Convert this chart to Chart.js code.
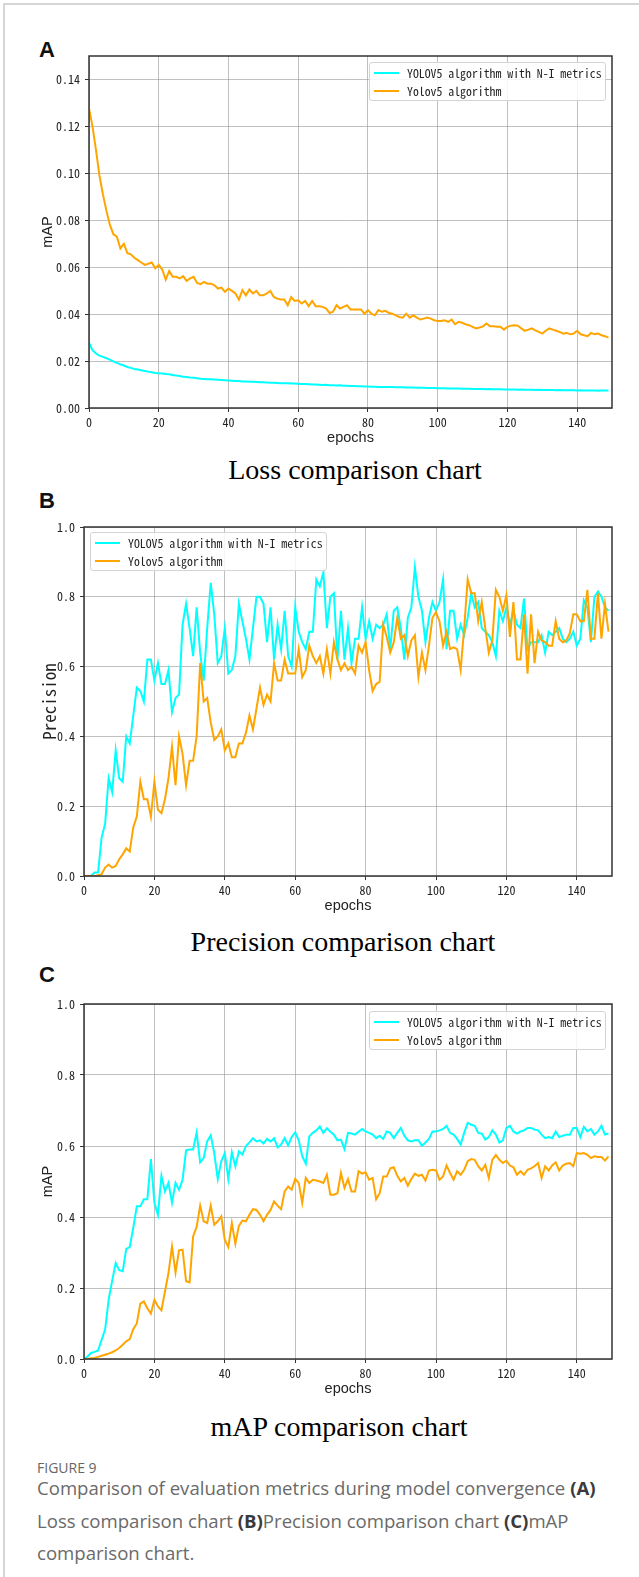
<!DOCTYPE html>
<html>
<head>
<meta charset="utf-8">
<script src="https://cdn.jsdelivr.net/npm/chart.js@4.4.1/dist/chart.umd.min.js"></script>
<style>
    html, body { margin: 0; padding: 0; background: #fff; }
    body { width: 639px; height: 1577px; position: relative; overflow: hidden; }
    .frame { position: absolute; left: 3px; top: 3px; width: 700px; height: 1700px;
             border-top: 2px solid #d6d6d6; border-left: 2px solid #d6d6d6; }
    canvas { position: absolute; left: 0; }
    .letter { position: absolute; font: bold 22px "Liberation Sans", Arial, sans-serif; line-height: 22px; color: #111; }
    .ptitle { position: absolute; font: 28px "Liberation Serif", "Times New Roman", serif; line-height: 28px;
              white-space: nowrap; transform: translateX(-50%); color: #000; }
    .legend { position: absolute; width: 237px; height: 39px; box-sizing: border-box;
              border: 1px solid #d4d4d4; border-radius: 3px; background: rgba(255,255,255,0.85);
              font: 11.8px "Noto Sans Mono CJK SC", "DejaVu Sans Mono", monospace; color: #222; }
    .legend .row { position: absolute; left: 0; height: 14px; line-height: 14px; white-space: nowrap; }
    .legend .swatch { position: absolute; left: 4px; top: 6px; width: 25px; height: 2px; }
    .legend .txt { position: absolute; left: 37px; top: 0; }
    .caphead { position: absolute; left: 37px; top: 1461px; font: 14px "Open Sans", "Noto Sans", sans-serif;
               line-height: 14px; color: #666; }
    .cap { position: absolute; left: 37px; top: 1472px; font: 18.6px "Open Sans", "Noto Sans", sans-serif;
           line-height: 32.5px; color: #6a6a6a; white-space: nowrap; }
    .cap b { color: #3a3a3a; }
</style>
</head>
<body>
<div class="frame"></div>

<div class="letter" style="left:39px;top:39px;">A</div>
<div class="letter" style="left:39px;top:490px;">B</div>
<div class="letter" style="left:39px;top:964px;">C</div>

<div class="ptitle" style="left:355px;top:456px;">Loss comparison chart</div>
<div class="ptitle" style="left:343px;top:928px;">Precision comparison chart</div>
<div class="ptitle" style="left:339px;top:1413px;">mAP comparison chart</div>

<div class="caphead">FIGURE 9</div>
<div class="cap">Comparison of evaluation metrics during model convergence <b>(A)</b><br>Loss comparison chart <b>(B)</b>Precision comparison chart <b>(C)</b>mAP<br>comparison chart.</div>

<script>
    const seriesNames = ["YOLOV5 algorithm with N-I metrics", "Yolov5 algorithm"];
    const seriesColors = ["#00ffff", "#ffa500"];

    const epochs = Array.from({ length: 150 }, (_, i) => i);
    const xTicks = [0, 20, 40, 60, 80, 100, 120, 140];
    const lossTicks = [0, 0.02, 0.04, 0.06, 0.08, 0.10, 0.12, 0.14];
    const unitTicks = [0, 0.2, 0.4, 0.6, 0.8, 1.0];

    // panel A: loss
    const lossNI = [
        0.0278, 0.0246, 0.0232, 0.0223, 0.0218, 0.0212, 0.0206, 0.0199, 0.0192, 0.0186,
        0.0181, 0.0175, 0.0171, 0.0166, 0.0164, 0.0161, 0.0158, 0.0155, 0.0152, 0.0149,
        0.0148, 0.0147, 0.0145, 0.0144, 0.0141, 0.0138, 0.0136, 0.0133, 0.0132, 0.0130,
        0.0129, 0.0127, 0.0125, 0.0124, 0.0123, 0.0122, 0.0121, 0.0120, 0.0119, 0.0118,
        0.0117, 0.0116, 0.0115, 0.0115, 0.0113, 0.0113, 0.0112, 0.0112, 0.0111, 0.0110,
        0.0110, 0.0109, 0.0108, 0.0108, 0.0107, 0.0106, 0.0106, 0.0105, 0.0104, 0.0104,
        0.0103, 0.0102, 0.0102, 0.0101, 0.0100, 0.0100, 0.0099, 0.0098, 0.0099, 0.0097,
        0.0097, 0.0096, 0.0097, 0.0095, 0.0095, 0.0094, 0.0094, 0.0093, 0.0093, 0.0092,
        0.0092, 0.0091, 0.0091, 0.0090, 0.0090, 0.0090, 0.0089, 0.0089, 0.0088, 0.0088,
        0.0088, 0.0087, 0.0087, 0.0087, 0.0086, 0.0086, 0.0086, 0.0085, 0.0085, 0.0085,
        0.0084, 0.0084, 0.0084, 0.0083, 0.0083, 0.0083, 0.0083, 0.0082, 0.0082, 0.0082,
        0.0081, 0.0081, 0.0081, 0.0081, 0.0080, 0.0081, 0.0080, 0.0080, 0.0080, 0.0079,
        0.0079, 0.0079, 0.0079, 0.0078, 0.0079, 0.0078, 0.0078, 0.0078, 0.0077, 0.0078,
        0.0077, 0.0077, 0.0077, 0.0077, 0.0076, 0.0077, 0.0076, 0.0076, 0.0076, 0.0076,
        0.0075, 0.0076, 0.0075, 0.0075, 0.0075, 0.0075, 0.0074, 0.0075, 0.0075, 0.0075
    ];
    const lossYolo = [
        0.1277, 0.120, 0.110, 0.099, 0.091, 0.084, 0.078, 0.074, 0.073, 0.068,
        0.070, 0.066, 0.0655, 0.064, 0.063, 0.062, 0.061, 0.0615, 0.062, 0.0595,
        0.061, 0.059, 0.0547, 0.0584, 0.0559, 0.0559, 0.0552, 0.0562, 0.0542, 0.0552,
        0.0559, 0.0533, 0.0528, 0.0537, 0.053, 0.053, 0.0523, 0.0509, 0.0513, 0.0495,
        0.0509, 0.0499, 0.0488, 0.0462, 0.0502, 0.048, 0.0505, 0.0488, 0.0499, 0.048,
        0.048, 0.0488, 0.0499, 0.0473, 0.0466, 0.0462, 0.0462, 0.0438, 0.0473, 0.0456,
        0.0459, 0.0445, 0.0456, 0.0434, 0.0456, 0.0434, 0.0434, 0.0431, 0.0424, 0.0405,
        0.041, 0.0438, 0.0424, 0.0431, 0.0438, 0.042, 0.042, 0.042, 0.042, 0.0402,
        0.0417, 0.0402, 0.0395, 0.0417, 0.041, 0.0414, 0.0405, 0.0402, 0.0395, 0.0388,
        0.0385, 0.0402, 0.0385, 0.0395, 0.0385, 0.0377, 0.0381, 0.0385, 0.0381, 0.0374,
        0.0371, 0.0371, 0.0374, 0.0367, 0.0377, 0.0357, 0.0367, 0.0363, 0.0357, 0.0353,
        0.0346, 0.0339, 0.0343, 0.0348, 0.036, 0.0348, 0.0348, 0.0346, 0.0346, 0.0334,
        0.0346, 0.0351, 0.0353, 0.0351, 0.0339, 0.0329, 0.0334, 0.0339, 0.0331, 0.0324,
        0.0317, 0.0329, 0.0339, 0.0334, 0.0329, 0.0324, 0.0317, 0.032, 0.0314, 0.0317,
        0.0329, 0.0314, 0.031, 0.0306, 0.032, 0.0314, 0.0317, 0.031, 0.0306, 0.030
    ];

    // panel B: precision
    const precNI = [
        0, 0, 0, 0.01, 0.01, 0.11, 0.15, 0.28, 0.24, 0.36,
        0.28, 0.27, 0.40, 0.38, 0.46, 0.54, 0.53, 0.50, 0.62, 0.62,
        0.56, 0.61, 0.55, 0.55, 0.59, 0.47, 0.51, 0.52, 0.72, 0.78,
        0.71, 0.63, 0.77, 0.64, 0.56, 0.71, 0.84, 0.75, 0.61, 0.63,
        0.71, 0.58, 0.59, 0.63, 0.78, 0.73, 0.68, 0.62, 0.71, 0.80,
        0.80, 0.78, 0.67, 0.77, 0.62, 0.72, 0.65, 0.76, 0.63, 0.60,
        0.77, 0.70, 0.67, 0.65, 0.70, 0.70, 0.85, 0.83, 0.87, 0.71,
        0.80, 0.81, 0.62, 0.76, 0.62, 0.71, 0.61, 0.68, 0.68, 0.77,
        0.68, 0.73, 0.68, 0.72, 0.71, 0.72, 0.75, 0.65, 0.76, 0.77,
        0.71, 0.62, 0.74, 0.77, 0.885, 0.80, 0.76, 0.67, 0.74, 0.785,
        0.76, 0.785, 0.85, 0.65, 0.76, 0.76, 0.68, 0.72, 0.69, 0.74,
        0.81, 0.77, 0.785, 0.71, 0.70, 0.69, 0.67, 0.63, 0.76, 0.73,
        0.77, 0.72, 0.76, 0.72, 0.71, 0.795, 0.65, 0.67, 0.67, 0.67,
        0.69, 0.64, 0.70, 0.69, 0.70, 0.71, 0.68, 0.67, 0.68, 0.70,
        0.66, 0.68, 0.79, 0.77, 0.67, 0.80, 0.815, 0.80, 0.77, 0.76
    ];
    const precYolo = [
        0, 0, 0, 0, 0.002, 0.005, 0.024, 0.033, 0.024, 0.029,
        0.048, 0.062, 0.079, 0.07, 0.14, 0.17, 0.27, 0.22, 0.22, 0.17,
        0.27, 0.19, 0.18, 0.22, 0.28, 0.37, 0.26, 0.40, 0.35, 0.26,
        0.33, 0.33, 0.40, 0.61, 0.50, 0.51, 0.44, 0.39, 0.40, 0.42,
        0.36, 0.38, 0.34, 0.34, 0.38, 0.38, 0.41, 0.46, 0.42, 0.48,
        0.54, 0.49, 0.52, 0.50, 0.61, 0.56, 0.56, 0.62, 0.58, 0.58,
        0.58, 0.65, 0.57, 0.59, 0.66, 0.63, 0.61, 0.63, 0.58, 0.65,
        0.58, 0.67, 0.62, 0.59, 0.61, 0.59, 0.60, 0.58, 0.66, 0.64,
        0.67, 0.59, 0.53, 0.55, 0.556, 0.72, 0.685, 0.64, 0.67, 0.74,
        0.68, 0.69, 0.63, 0.675, 0.69, 0.57, 0.64, 0.59, 0.66, 0.74,
        0.756, 0.73, 0.66, 0.70, 0.65, 0.655, 0.65, 0.59, 0.71, 0.85,
        0.81, 0.81, 0.73, 0.785, 0.71, 0.64, 0.675, 0.82, 0.80, 0.76,
        0.805, 0.685, 0.785, 0.62, 0.62, 0.75, 0.58, 0.75, 0.61, 0.70,
        0.675, 0.67, 0.66, 0.66, 0.73, 0.68, 0.67, 0.675, 0.695, 0.75,
        0.75, 0.73, 0.73, 0.82, 0.68, 0.68, 0.81, 0.68, 0.78, 0.70
    ];

    // panel C: mAP
    const mapNI = [
        0, 0.007, 0.017, 0.02, 0.024, 0.054, 0.083, 0.167, 0.22, 0.27,
        0.25, 0.247, 0.31, 0.315, 0.37, 0.43, 0.43, 0.45, 0.45, 0.563,
        0.44, 0.406, 0.516, 0.472, 0.496, 0.44, 0.496, 0.477, 0.505, 0.588,
        0.59, 0.59, 0.638, 0.554, 0.566, 0.613, 0.63, 0.58, 0.507, 0.557,
        0.58, 0.507, 0.582, 0.543, 0.585, 0.576, 0.60, 0.61, 0.622, 0.613,
        0.616, 0.607, 0.62, 0.613, 0.622, 0.596, 0.604, 0.622, 0.602, 0.625,
        0.638, 0.616, 0.571, 0.55, 0.627, 0.637, 0.644, 0.655, 0.637, 0.65,
        0.64, 0.632, 0.616, 0.618, 0.591, 0.637, 0.635, 0.632, 0.64, 0.648,
        0.641, 0.637, 0.632, 0.622, 0.629, 0.62, 0.641, 0.637, 0.622, 0.637,
        0.651, 0.629, 0.616, 0.613, 0.616, 0.616, 0.601, 0.61, 0.62, 0.641,
        0.641, 0.644, 0.648, 0.657, 0.637, 0.632, 0.62, 0.604, 0.637, 0.665,
        0.66, 0.657, 0.637, 0.635, 0.618, 0.625, 0.644, 0.632, 0.61, 0.616,
        0.651, 0.657, 0.641, 0.635, 0.641, 0.644, 0.651, 0.651, 0.646, 0.644,
        0.632, 0.622, 0.625, 0.622, 0.641, 0.625, 0.629, 0.632, 0.632, 0.651,
        0.651, 0.625, 0.654, 0.641, 0.648, 0.632, 0.641, 0.657, 0.632, 0.635
    ];
    const mapYolo = [
        0, 0, 0.002, 0.003, 0.006, 0.009, 0.012, 0.015, 0.019, 0.024,
        0.031, 0.04, 0.05, 0.056, 0.084, 0.10, 0.156, 0.162, 0.143, 0.128,
        0.167, 0.148, 0.137, 0.19, 0.242, 0.317, 0.244, 0.306, 0.308, 0.219,
        0.216, 0.345, 0.372, 0.432, 0.388, 0.383, 0.432, 0.378, 0.388, 0.402,
        0.336, 0.315, 0.383, 0.325, 0.375, 0.39, 0.388, 0.406, 0.422, 0.42,
        0.406, 0.388, 0.406, 0.42, 0.444, 0.432, 0.422, 0.472, 0.486, 0.477,
        0.507, 0.496, 0.44, 0.51, 0.496, 0.505, 0.503, 0.50, 0.496, 0.519,
        0.463, 0.463, 0.467, 0.524, 0.482, 0.507, 0.472, 0.472, 0.529, 0.522,
        0.526, 0.505, 0.51, 0.45, 0.467, 0.514, 0.514, 0.537, 0.54, 0.516,
        0.50, 0.51, 0.488, 0.507, 0.522, 0.516, 0.519, 0.503, 0.531, 0.533,
        0.531, 0.505, 0.514, 0.545, 0.524, 0.505, 0.529, 0.519, 0.533, 0.557,
        0.563, 0.561, 0.543, 0.531, 0.547, 0.51, 0.561, 0.575, 0.561, 0.552,
        0.559, 0.545, 0.54, 0.519, 0.529, 0.519, 0.533, 0.537, 0.543, 0.552,
        0.51, 0.543, 0.531, 0.545, 0.554, 0.531, 0.545, 0.55, 0.552, 0.543,
        0.58, 0.578, 0.58, 0.575, 0.566, 0.571, 0.569, 0.569, 0.559, 0.571
    ];

    const monoFont = "'Noto Sans Mono CJK SC', 'DejaVu Sans Mono', monospace";
    const sansFont = "'Liberation Sans', Arial, sans-serif";
    const gridColor = "rgba(150,150,150,0.6)";
    const axisColor = "#333";

    // box around the plotting area, drawn over the lines like matplotlib spines
    const frameBox = {
        id: "frameBox",
        afterDatasetsDraw(chart) {
            const { ctx, chartArea: a } = chart;
            ctx.save();
            ctx.strokeStyle = axisColor;
            ctx.lineWidth = 1.5;
            ctx.strokeRect(a.left, a.top, a.right - a.left, a.bottom - a.top);
            ctx.restore();
        }
    };

    function addLegend(left, top) {
        const box = document.createElement("div");
        box.className = "legend";
        box.style.left = left + "px";
        box.style.top = top + "px";
        seriesNames.forEach((name, i) => {
            const row = document.createElement("div");
            row.className = "row";
            row.style.top = (3 + i * 17.5) + "px";
            row.innerHTML = `<div class="swatch" style="background:${seriesColors[i]}"></div><div class="txt">${name}</div>`;
            box.appendChild(row);
        });
        document.body.appendChild(box);
    }

    function makePanel(p) {
        const canvasTop = p.top - 16;
        const canvasHeight = p.bottom + 46 - canvasTop;
        const canvas = document.createElement("canvas");
        canvas.width = 639;
        canvas.height = canvasHeight;
        canvas.style.top = canvasTop + "px";
        canvas.style.width = "639px";
        canvas.style.height = canvasHeight + "px";
        document.body.appendChild(canvas);

        const line = (values, i) => ({
            label: seriesNames[i],
            data: epochs.map((x, k) => ({ x, y: values[k] })),
            borderColor: seriesColors[i],
            borderWidth: 2,
            pointRadius: 0,
            tension: 0,
            fill: false,
            order: i === 1 ? 0 : 1
        });

        new Chart(canvas, {
            type: "line",
            data: { datasets: [line(p.ni, 0), line(p.yolo, 1)] },
            options: {
                responsive: false,
                animation: false,
                devicePixelRatio: 1,
                layout: { padding: { left: 30, right: 639 - p.right, top: 16, bottom: 0 } },
                plugins: { legend: { display: false }, tooltip: { enabled: false } },
                scales: {
                    x: {
                        type: "linear",
                        min: 0,
                        max: 150,
                        afterBuildTicks: (s) => { s.ticks = xTicks.map((v) => ({ value: v })); },
                        afterFit: (s) => { s.height = 46; },
                        border: { display: false },
                        grid: { color: gridColor, lineWidth: 1, tickLength: 4, tickColor: axisColor },
                        ticks: {
                            font: { family: monoFont, size: 12 },
                            color: "#222",
                            padding: 3,
                            maxRotation: 0,
                            autoSkip: false,
                            callback: (v) => String(v)
                        },
                        title: {
                            display: true,
                            text: "epochs",
                            font: { family: sansFont, size: 14.5 },
                            color: "#222",
                            padding: { top: 0, bottom: 7 }
                        }
                    },
                    y: {
                        min: 0,
                        max: p.yMax,
                        afterBuildTicks: (s) => { s.ticks = p.yTicks.map((v) => ({ value: v })); },
                        afterFit: (s) => { s.width = p.left - 30; },
                        border: { display: false },
                        grid: { color: gridColor, lineWidth: 1, tickLength: 4, tickColor: axisColor },
                        ticks: {
                            font: { family: monoFont, size: 12 },
                            color: "#222",
                            padding: 5,
                            autoSkip: false,
                            callback: (v) => Number(v).toFixed(p.decimals)
                        },
                        title: {
                            display: true,
                            text: p.yTitle,
                            font: p.yTitleFont,
                            color: "#222",
                            padding: { top: 9, bottom: 0 }
                        }
                    }
                }
            },
            plugins: [frameBox]
        });

        addLegend(p.legendLeft, p.legendTop);
    }

    makePanel({
        left: 89, right: 612, top: 56, bottom: 408,
        yMax: 0.15, yTicks: lossTicks, decimals: 2,
        yTitle: "mAP", yTitleFont: { family: sansFont, size: 14.5 },
        ni: lossNI, yolo: lossYolo,
        legendLeft: 369, legendTop: 62
    });
    makePanel({
        left: 84, right: 612, top: 527, bottom: 876,
        yMax: 1.0, yTicks: unitTicks, decimals: 1,
        yTitle: "Precision", yTitleFont: { family: monoFont, size: 17 },
        ni: precNI, yolo: precYolo,
        legendLeft: 90, legendTop: 532
    });
    makePanel({
        left: 84, right: 612, top: 1004, bottom: 1359,
        yMax: 1.0, yTicks: unitTicks, decimals: 1,
        yTitle: "mAP", yTitleFont: { family: sansFont, size: 14.5 },
        ni: mapNI, yolo: mapYolo,
        legendLeft: 369, legendTop: 1011
    });
</script>
</body>
</html>
